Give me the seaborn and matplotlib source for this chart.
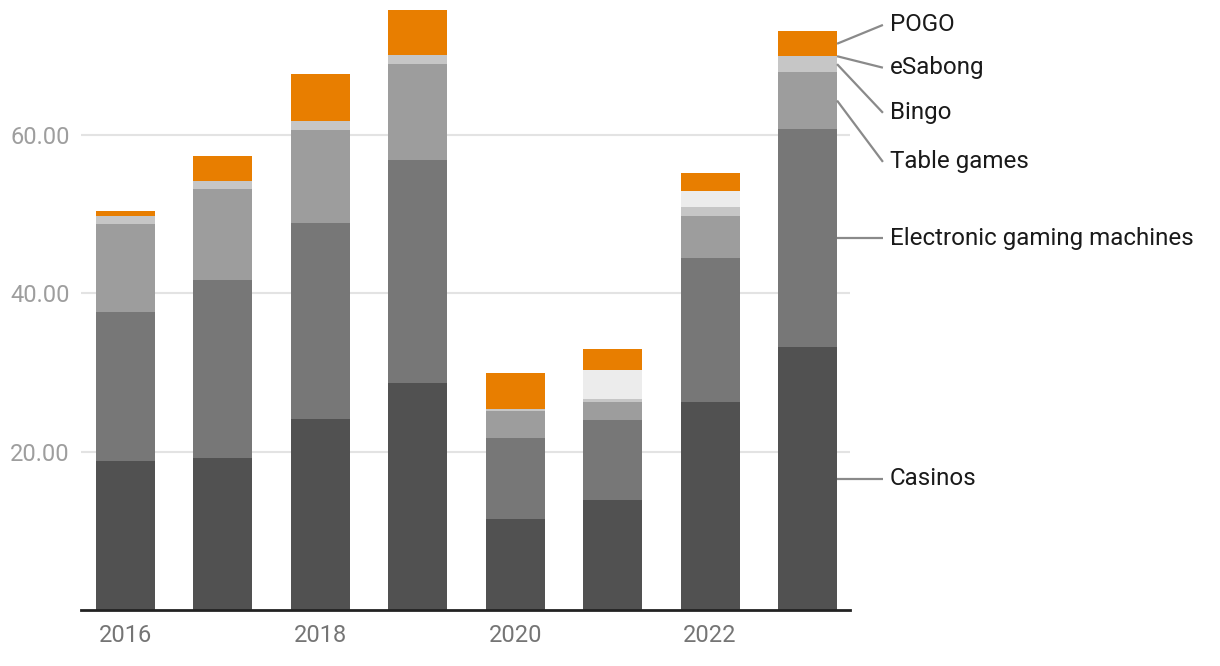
import matplotlib
matplotlib.use("Agg")
import numpy as np
import pandas as pd
import matplotlib.pyplot as plt
import seaborn as sns

# Revenue by segment
years = ["2016", "2017", "2018", "2019", "2020", "2021", "2022", "2023"]
casinos = [18.8, 19.2, 24.1, 28.7, 11.5, 13.9, 26.3, 33.2]
egm = [18.8, 22.5, 24.75, 28.15, 10.25, 10.1, 18.2, 27.55]
table_games = [11.1, 11.5, 11.75, 12.1, 3.4, 2.25, 5.3, 7.2]
bingo = [1.1, 1.0, 1.15, 1.15, 0.25, 0.4, 1.15, 2.0]
esabong = [0, 0, 0, 0, 0, 3.65, 2.0, 0]
pogo = [0.6, 3.2, 5.9, 5.7, 4.55, 2.65, 2.3, 3.15]

series_names = ["Casinos", "Electronic gaming machines", "Table games",
                "Bingo", "eSabong", "POGO"]
series_values = [casinos, egm, table_games, bingo, esabong, pogo]
colors = ["#515151", "#777777", "#9d9d9d", "#c6c6c6", "#ececec", "#e87e00"]

# label placement (y in data units) for the right-hand annotations;
# None means "level with the segment"
label_y = [None, None, 56.6, 62.8, 68.5, 73.9]

sns.set_theme(style="white")
plt.rcParams["font.family"] = ["Roboto", "DejaVu Sans"]

fig = plt.figure(figsize=(12.2, 6.66), dpi=100)
ax = fig.add_axes([81 / 1220, 56 / 666, (850 - 81) / 1220, 610 / 666])

data = pd.DataFrame(dict(zip(series_names, series_values)), index=years)
cum = data.cumsum(axis=1)

# draw cumulative bars from the top layer down so each one overlays the next
for name, color in zip(series_names[::-1], colors[::-1]):
    sns.barplot(x=years, y=cum[name].values, color=color, saturation=1,
                width=0.606, linewidth=0, ax=ax)

ax.set_xlim(-0.457, 7.436)
ax.set_ylim(0, 77.05)
ax.set_yticks([20, 40, 60])
ax.set_yticklabels([f"{v:.2f}" for v in [20, 40, 60]])
ax.set_xticks([0, 2, 4, 6])
ax.set_xticklabels(years[::2])
ax.tick_params(axis="y", length=0, pad=8, labelsize=17, labelcolor="#9e9e9e")
ax.tick_params(axis="x", length=0, pad=10, labelsize=17, labelcolor="#757575")
ax.yaxis.grid(True, color="#e3e3e3", linewidth=1.5)
ax.set_axisbelow(True)
for side in ["left", "right", "top"]:
    ax.spines[side].set_visible(False)
ax.spines["bottom"].set_color("#222222")
ax.spines["bottom"].set_linewidth(2)
ax.set_xlabel("")
ax.set_ylabel("")

# leader lines and labels for the last bar
last = len(years) - 1
bottoms = cum.iloc[last].values - data.iloc[last].values
tops = cum.iloc[last].values
x_bar = last + 0.303
x_end = 7.774
x_text = 7.846
for name, lo, hi, ly in zip(series_names, bottoms, tops, label_y):
    ymid = (lo + hi) / 2
    if ly is None:
        ly = ymid
    ax.plot([x_bar, x_end], [ymid, ly], color="#8a8a8a", linewidth=1.6,
            clip_on=False, solid_capstyle="butt")
    ax.text(x_text, ly, name, ha="left", va="center", fontsize=17.4,
            color="#1a1a1a", clip_on=False)

fig.savefig("out.png", dpi=100)
